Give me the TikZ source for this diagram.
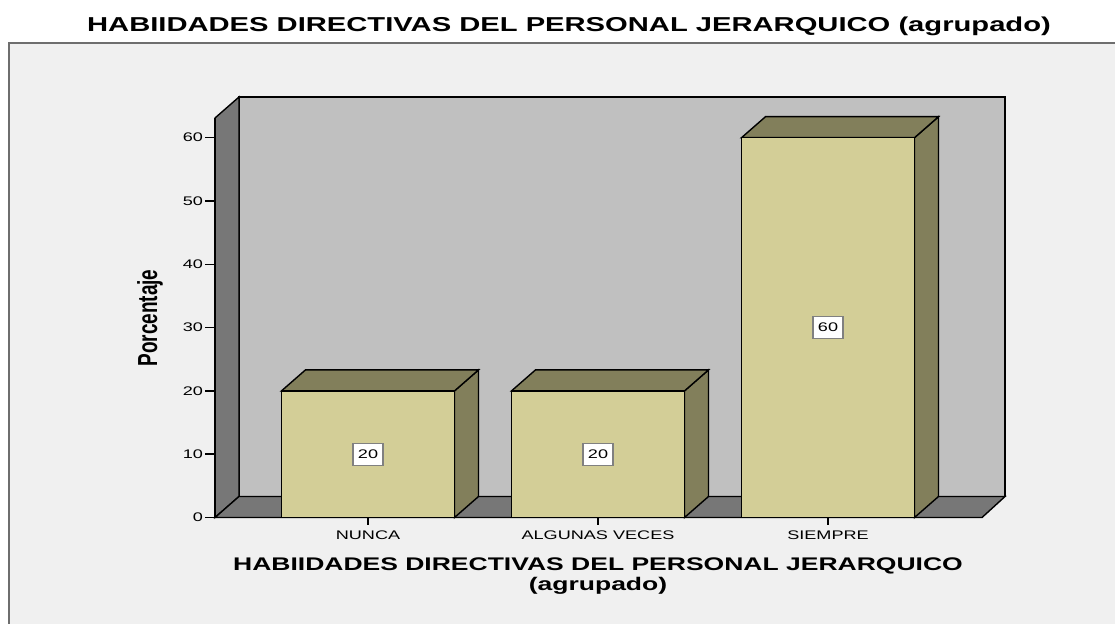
\documentclass[tikz,border=0pt]{standalone}
\usepackage{fontspec}
\setmainfont{Liberation Sans}
\newfontfamily\spssfont[FakeStretch=1.45]{Liberation Sans}
\usetikzlibrary{positioning}
\definecolor{panelgray}{HTML}{F0F0F0}
\definecolor{wallgray}{HTML}{C0C0C0}
\definecolor{floorgray}{HTML}{777777}
\definecolor{barkhaki}{HTML}{D3CE97}
\definecolor{barolive}{HTML}{827F5B}
\definecolor{framegray}{HTML}{6E6E6E}
\tikzset{
  outline/.style={draw=black, line width=0.8pt, line join=miter},
  backwall/.style={outline, fill=wallgray},
  sidewall/.style={outline, fill=floorgray},
  barfront/.style={outline, fill=barkhaki},
  barshade/.style={outline, fill=barolive},
  valbox/.style={draw=gray, fill=white, line width=0.6pt, inner sep=0pt,
    minimum width=0.6cm, minimum height=0.44cm,
    font=\spssfont\fontsize{7.1pt}{8pt}\selectfont},
  ticklabel/.style={anchor=east, inner sep=1pt,
    font=\spssfont\fontsize{7.1pt}{8pt}\selectfont},
  catlabel/.style={inner sep=1pt, font=\spssfont\fontsize{7.1pt}{8pt}\selectfont}
}
\begin{document}
\begin{tikzpicture}[x=0.02cm, y=-0.02cm]
	\useasboundingbox (0,0) rectangle (1115,624);
	% outer frame
	\fill[panelgray] (9,43) rectangle (1115,624);
	\draw[framegray, line width=1.2pt] (9,624) -- (9,43) -- (1115,43);
	\node[font=\spssfont\bfseries\fontsize{11.45pt}{13pt}\selectfont] (title) at (569,26)
		{HABIIDADES DIRECTIVAS DEL PERSONAL JERARQUICO (agrupado)};
	% walls of the plot
	\coordinate (o) at (215,517.5);
	\coordinate (ob) at (239,496.5);
	\coordinate (tl) at (215,118);
	\coordinate (tlb) at (239,97);
	\coordinate (br) at (982,517.5);
	\coordinate (brb) at (1005,496.5);
	\coordinate (trb) at (1005,97);
	\draw[backwall] (tlb) rectangle (brb);
	\draw[sidewall] (o) to (ob) to (tlb) to (tl) to cycle;
	\draw[sidewall] (o) to (br) to (brb) to (ob) to cycle;
	% y axis
	\draw[line width=0.8pt] (o) to (tl);
	\foreach \t in {0,10,...,60} {
		\pgfmathsetmacro\yt{517.5-6.33*\t}
		\draw[line width=0.8pt] (205,\yt) to (215,\yt);
		\node[ticklabel] (tick-\t) at (205,\yt) {\t};
	}
	\node[rotate=90, font=\bfseries\fontsize{10.8pt}{12pt}\selectfont] (ylabel) at (150,318)
		{\scalebox{1}[1.45]{Porcentaje}};
	% bars
	\foreach \c/\v/\n/\lab in {368/20/nunca/NUNCA, 598/20/algunas/ALGUNAS VECES, 828/60/siempre/SIEMPRE} {
		\pgfmathsetmacro\ytop{517.5-6.33*\v}
		\pgfmathsetmacro\ymid{517.5-3.165*\v}
		\draw[barshade] (\c+86.5,\ytop) -- ++(24,-21) -- (\c+110.5,496.5) -- (\c+86.5,517.5) -- cycle;
		\draw[barshade] (\c-86.5,\ytop) -- ++(24,-21) -- ++(173,0) -- (\c+86.5,\ytop) -- cycle;
		\draw[barfront] (\c-86.5,517.5) rectangle (\c+86.5,\ytop);
		\node[valbox] (val-\n) at (\c,\ymid) {\v};
		\draw[line width=0.8pt] (\c,517.5) to (\c,525);
		\node[catlabel] (cat-\n) at (\c,535) {\lab};
	}
	\node[align=center, font=\spssfont\bfseries\fontsize{10.4pt}{11.3pt}\selectfont] (xlabel) at (598,576)
		{HABIIDADES DIRECTIVAS DEL PERSONAL JERARQUICO\\(agrupado)};
\end{tikzpicture}
\end{document}
